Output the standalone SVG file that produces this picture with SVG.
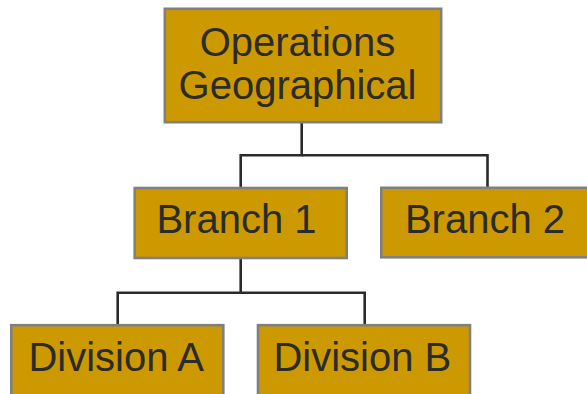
<svg xmlns="http://www.w3.org/2000/svg" width="587" height="394" viewBox="0 0 587 394">
  <style>
    .box { fill: #cc9900; stroke: #808080; stroke-width: 2.6; }
    .label { font-family: "Liberation Sans", Arial, sans-serif; font-size: 40px; fill: #2b2b2b; text-anchor: middle; }
    .link { fill: none; stroke: #2b2b2b; stroke-width: 2.6; }
  </style>
  <rect width="587" height="394" fill="#ffffff"/>

  <!-- connectors -->
  <g id="connectors">
    <path class="link" d="M301.7 122.2 V155.3 H240.7 V188"/>
    <path class="link" d="M301.7 155.3 H487.5 V187.8"/>
    <path class="link" d="M240.7 258 V292.7 H117.7 V325.2"/>
    <path class="link" d="M240.7 292.7 H364.7 V325.2"/>
  </g>

  <g id="operations-geographical">
    <rect class="box" x="164.8" y="8.8" width="276.4" height="113.4"/>
    <text class="label" x="297.5" y="55.5">Operations</text>
    <text class="label" x="297.5" y="98.5">Geographical</text>
  </g>

  <g id="branch-1">
    <rect class="box" x="134.7" y="188" width="212" height="70"/>
    <text class="label" x="236.5" y="233">Branch 1</text>
  </g>

  <g id="branch-2">
    <rect class="box" x="381.3" y="187.8" width="212" height="69.5"/>
    <text class="label" x="485" y="233">Branch 2</text>
  </g>

  <g id="division-a">
    <rect class="box" x="11.3" y="325.2" width="212" height="70"/>
    <text class="label" x="116.2" y="371">Division A</text>
  </g>

  <g id="division-b">
    <rect class="box" x="258" y="325.2" width="212" height="70"/>
    <text class="label" x="362.3" y="371">Division B</text>
  </g>
</svg>
